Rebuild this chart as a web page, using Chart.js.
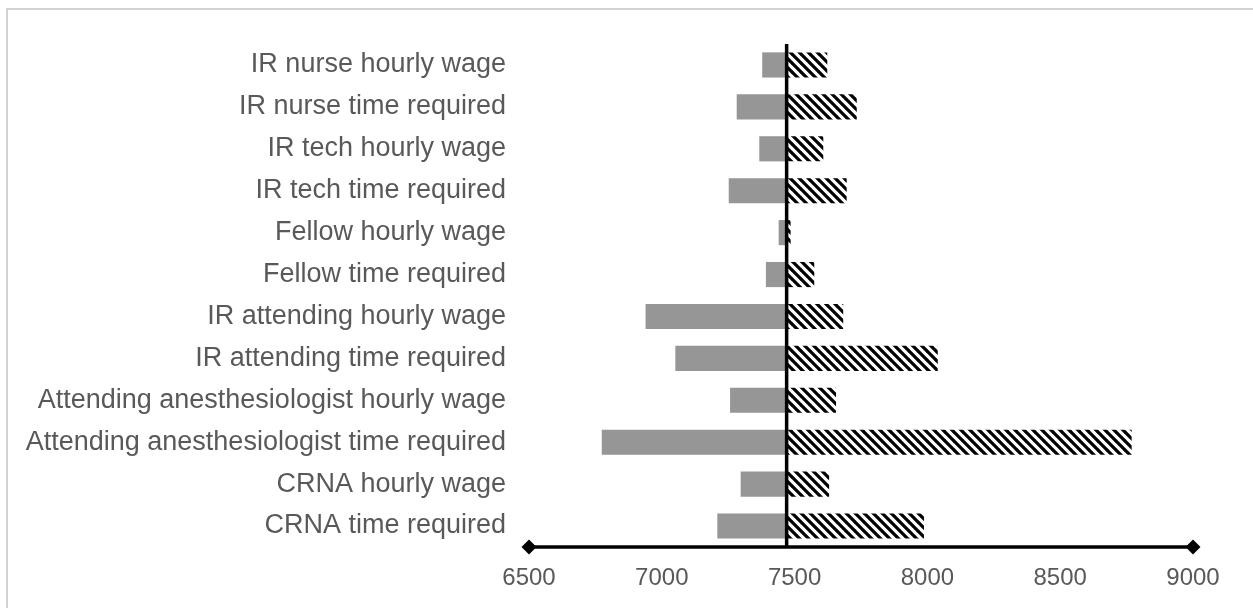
<!DOCTYPE html>
<html>
<head>
<meta charset="utf-8">
<script src="https://cdn.jsdelivr.net/npm/chart.js@4"></script>
<style>
  html, body { margin: 0; padding: 0; background: #ffffff; }
  body { width: 1253px; height: 608px; position: relative; overflow: hidden; }
  #frame { position: absolute; left: 6px; top: 8px; width: 1249px; height: 602px; border: 2px solid #d2d2d2; box-sizing: border-box; }
  #wrap { position: absolute; left: 0; top: 0; width: 1253px; height: 608px; }
</style>
</head>
<body>
<div id="frame"></div>
<div id="wrap"><canvas id="c" width="1253" height="608"></canvas></div>
<script>
const categories = [
  'IR nurse hourly wage',
  'IR nurse time required',
  'IR tech hourly wage',
  'IR tech time required',
  'Fellow hourly wage',
  'Fellow time required',
  'IR attending hourly wage',
  'IR attending time required',
  'Attending anesthesiologist hourly wage',
  'Attending anesthesiologist time required',
  'CRNA hourly wage',
  'CRNA time required'
];
const baseValue = 7470;
const lowValues  = [7378, 7282, 7367, 7252, 7440, 7392, 6939, 7051, 7257, 6774, 7297, 7209];
const highValues = [7623, 7734, 7608, 7696, 7485, 7574, 7683, 8039, 7656, 8769, 7630, 7987];
const tickValues = [6500, 7000, 7500, 8000, 8500, 9000];

function makeHatch() {
  const p = 9;
  const t = document.createElement('canvas');
  t.width = p; t.height = p;
  const g = t.getContext('2d');
  g.fillStyle = '#ffffff';
  g.fillRect(0, 0, p, p);
  g.strokeStyle = '#000000';
  g.lineWidth = 3.2;
  g.beginPath();
  for (let k = -1; k <= 1; k++) {
    g.moveTo(-1, k * p - 1);
    g.lineTo(p + 1, p + k * p + 1);
  }
  g.stroke();
  return document.getElementById('c').getContext('2d').createPattern(t, 'repeat');
}

const axisPlugin = {
  id: 'axisPlugin',
  afterDatasetsDraw(chart) {
    const ctx = chart.ctx;
    const xs = chart.scales.x;
    const area = chart.chartArea;
    const bx = xs.getPixelForValue(baseValue);
    const x0 = xs.getPixelForValue(tickValues[0]);
    const x1 = xs.getPixelForValue(tickValues[tickValues.length - 1]);
    const y = area.bottom;
    ctx.save();
    ctx.strokeStyle = '#000000';
    ctx.lineWidth = 3.5;
    ctx.beginPath();
    ctx.moveTo(bx, area.top);
    ctx.lineTo(bx, y);
    ctx.stroke();
    ctx.beginPath();
    ctx.moveTo(x0, y);
    ctx.lineTo(x1, y);
    ctx.stroke();
    ctx.fillStyle = '#000000';
    [x0, x1].forEach(px => {
      const r = 7.5;
      ctx.beginPath();
      ctx.moveTo(px, y - r);
      ctx.lineTo(px + r, y);
      ctx.lineTo(px, y + r);
      ctx.lineTo(px - r, y);
      ctx.closePath();
      ctx.fill();
    });
    ctx.restore();
  }
};

const hatch = makeHatch();

new Chart(document.getElementById('c'), {
  type: 'bar',
  data: {
    labels: categories,
    datasets: [
      {
        label: 'Low',
        data: lowValues.map(v => [v, baseValue]),
        backgroundColor: '#969696',
        borderWidth: 0,
        grouped: false,
        barPercentage: 0.6,
        categoryPercentage: 1.0
      },
      {
        label: 'High',
        data: highValues.map(v => [baseValue, v]),
        backgroundColor: hatch,
        borderWidth: 0,
        grouped: false,
        barPercentage: 0.6,
        categoryPercentage: 1.0
      }
    ]
  },
  options: {
    indexAxis: 'y',
    responsive: false,
    animation: false,
    devicePixelRatio: 1,
    layout: { padding: { top: 44, right: 60, left: 0, bottom: 0 } },
    plugins: { legend: { display: false }, tooltip: { enabled: false } },
    scales: {
      x: {
        type: 'linear',
        min: tickValues[0],
        max: tickValues[tickValues.length - 1],
        grid: { display: false, drawTicks: false },
        border: { display: false },
        afterBuildTicks(scale) { scale.ticks = tickValues.map(v => ({ value: v })); },
        afterFit(scale) { scale.height = 61; },
        ticks: {
          padding: 17,
          color: '#595959',
          font: { family: '"Liberation Sans", Arial, sans-serif', size: 24 },
          callback: v => String(v)
        }
      },
      y: {
        grid: { display: false, drawTicks: false },
        border: { display: false },
        afterFit(scale) { scale.width = 529; },
        ticks: {
          padding: 23,
          color: '#595959',
          font: { family: '"Liberation Sans", Arial, sans-serif', size: 27 }
        }
      }
    }
  },
  plugins: [axisPlugin]
});
</script>
</body>
</html>
